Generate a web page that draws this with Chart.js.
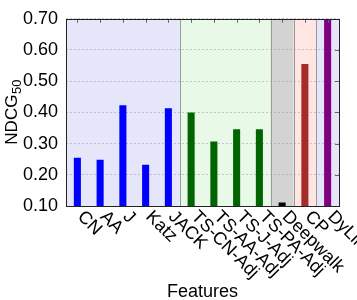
<!DOCTYPE html>
<html>
<head>
<meta charset="utf-8">
<script src="https://cdn.jsdelivr.net/npm/chart.js@4"></script>
<style>
  html, body { margin: 0; padding: 0; background: #fff; }
  #wrap { width: 357px; height: 300px; }
</style>
</head>
<body>
<div id="wrap"><canvas id="chart"></canvas></div>
<script>
// data
const categories = ['CN', 'AA', 'J', 'Katz', 'JACK', 'TS-CN-Adj', 'TS-AA-Adj', 'TS-J-Adj', 'TS-PA-Adj', 'Deepwalk', 'CP', 'DyLink'];
const ndcg = [0.255, 0.248, 0.423, 0.232, 0.413, 0.400, 0.307, 0.346, 0.346, 0.111, 0.555, 0.696];
const groupOf = [0, 0, 0, 0, 0, 1, 1, 1, 1, 2, 3, 4];
const yMin = 0.1, yMax = 0.7, yStep = 0.1;

const barColors = ['#0000ff', '#006400', '#000000', '#a52a2a', '#800080'];
const bandColors = ['#e6e6fa', '#e8f9e8', '#d3d3d3', '#ffe6e3', '#e6e6fa'];
const FONT = '"Liberation Sans", Arial, sans-serif';

const decor = {
  id: 'decor',
  beforeDraw(chart) {
    const { ctx, chartArea: a, scales: { x } } = chart;
    const n = categories.length;
    ctx.save();
    for (let i = 0; i < n; i++) {
      const l = i == 0 ? a.left : (x.getPixelForValue(i - 1) + x.getPixelForValue(i)) / 2;
      const r = i == n - 1 ? a.right : (x.getPixelForValue(i) + x.getPixelForValue(i + 1)) / 2;
      ctx.fillStyle = bandColors[groupOf[i]];
      ctx.fillRect(l, a.top, r - l + 0.5, a.bottom - a.top);
    }
    ctx.restore();
  },
  beforeDatasetsDraw(chart) {
    const { ctx, chartArea: a, scales: { x } } = chart;
    ctx.save();
    ctx.strokeStyle = '#9a9a9a';
    ctx.lineWidth = 1;
    for (let i = 1; i < categories.length; i++) {
      if (groupOf[i] == groupOf[i - 1]) continue;
      const px = Math.round((x.getPixelForValue(i - 1) + x.getPixelForValue(i)) / 2) + 0.5;
      ctx.beginPath();
      ctx.moveTo(px, a.top);
      ctx.lineTo(px, a.bottom);
      ctx.stroke();
    }
    ctx.restore();
  },
  afterDraw(chart) {
    const { ctx, chartArea: a, scales: { x, y } } = chart;
    ctx.save();
    // small tick marks on top and right
    ctx.strokeStyle = '#666';
    ctx.lineWidth = 1;
    categories.forEach((c, i) => {
      const px = Math.round(x.getPixelForValue(i)) + 0.5;
      ctx.beginPath();
      ctx.moveTo(px, a.top);
      ctx.lineTo(px, a.top + 4);
      ctx.stroke();
    });
    y.ticks.forEach(t => {
      const py = Math.round(y.getPixelForValue(t.value)) + 0.5;
      ctx.beginPath();
      ctx.moveTo(a.right - 4, py);
      ctx.lineTo(a.right, py);
      ctx.stroke();
    });
    // frame
    ctx.strokeStyle = '#222';
    ctx.strokeRect(Math.round(a.left) + 0.5, Math.round(a.top) + 0.5,
      Math.round(a.right - a.left), Math.round(a.bottom - a.top));

    // rotated category labels
    ctx.fillStyle = '#000';
    ctx.font = '18px ' + FONT;
    ctx.textAlign = 'left';
    ctx.textBaseline = 'middle';
    categories.forEach((c, i) => {
      ctx.save();
      ctx.translate(x.getPixelForValue(i) + 3, a.bottom + 8);
      ctx.rotate(Math.PI / 4);
      ctx.fillText(c, 0, 0);
      ctx.restore();
    });

    // x title
    ctx.textAlign = 'center';
    ctx.textBaseline = 'alphabetic';
    ctx.fillText('Features', (a.left + a.right) / 2, 297);

    // y title NDCG with subscript 50
    ctx.save();
    ctx.translate(17, (a.top + a.bottom) / 2);
    ctx.rotate(-Math.PI / 2);
    ctx.font = '17px ' + FONT;
    const main = 'NDCG';
    ctx.font = '17px ' + FONT;
    const w1 = ctx.measureText(main).width;
    ctx.font = '13px ' + FONT;
    const w2 = ctx.measureText('50').width;
    const start = -(w1 + w2) / 2;
    ctx.textAlign = 'left';
    ctx.font = '17px ' + FONT;
    ctx.fillText(main, start, 0);
    ctx.font = '13px ' + FONT;
    ctx.fillText('50', start + w1 + 0.5, 4);
    ctx.restore();

    ctx.restore();
  }
};

new Chart(document.getElementById('chart'), {
  type: 'bar',
  data: {
    labels: categories,
    datasets: [{
      data: ndcg,
      backgroundColor: groupOf.map(g => barColors[g]),
      borderWidth: 0,
      barPercentage: 0.31,
      categoryPercentage: 1
    }]
  },
  options: {
    responsive: true,
    maintainAspectRatio: false,
    animation: false,
    layout: { padding: { left: 0, right: 18, top: 12, bottom: 0 } },
    plugins: { legend: { display: false }, tooltip: { enabled: false } },
    scales: {
      x: {
        ticks: { display: false },
        grid: { display: false },
        border: { display: false },
        afterFit(s) { s.height = 94; }
      },
      y: {
        min: yMin,
        max: yMax,
        ticks: {
          stepSize: yStep,
          padding: 8,
          color: '#000',
          font: { family: FONT, size: 18 },
          callback: v => Number(v).toFixed(2)
        },
        grid: { color: 'rgba(140,140,150,0.45)', drawTicks: false, lineWidth: 1 },
        border: { display: false, dash: [2, 2] },
        afterFit(s) { s.width = 66; }
      }
    }
  },
  plugins: [decor]
});
</script>
</body>
</html>
